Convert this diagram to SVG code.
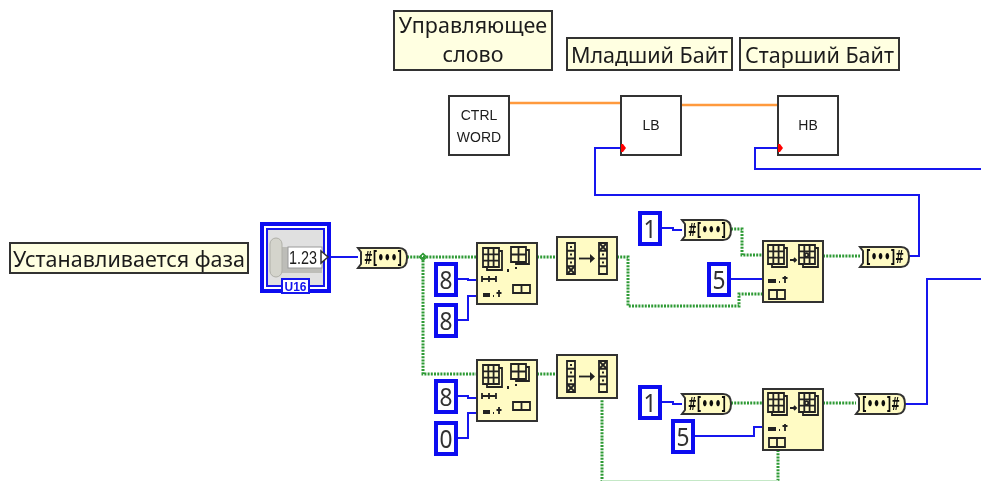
<svg xmlns="http://www.w3.org/2000/svg" xmlns:xlink="http://www.w3.org/1999/xlink" width="981" height="481" viewBox="0 0 981 481">
<style>
text{font-family:"Noto Sans","DejaVu Sans",sans-serif;fill:#1c1c1c}
.lbl{fill:#ffffe1;stroke:#333;stroke-width:2}
.lt{font-size:21.500px;text-anchor:middle}
.blk{fill:#fffbc4;stroke:#333;stroke-width:2}
.sub{fill:#fff;stroke:#333;stroke-width:2}
.st{font-family:"Liberation Sans",Arial,sans-serif;font-size:14px;text-anchor:middle}
.con{fill:#fff;stroke:#0808f0;stroke-width:4}
.ct{font-size:25px;fill:#333}
.tag{fill:#fffbc4;stroke:#333;stroke-width:2}
.tt{font-family:"DejaVu Sans",sans-serif;font-weight:bold;font-size:17px;fill:#111}
.gl{fill:none;stroke:#222;stroke-width:1.800}
.gf{fill:#222}
.b{fill:none;stroke:#1414ee;stroke-width:2}
.g{fill:none;stroke:#2f9a35;stroke-width:3;stroke-dasharray:2 1.200}
.o{fill:none;stroke:#ff9a3c;stroke-width:2.500}
</style>
<defs>
<filter id="soft" filterUnits="userSpaceOnUse" x="0" y="0" width="981" height="481"><feGaussianBlur stdDeviation="0.4"/></filter>
<g id="grid"><path class="gl" d="M0 0h16v19H0zM5.300 0v19M10.600 0v19M0 6.300h16M0 12.600h16M16 3h3v19H4v-3"/></g>
<g id="subset">
<rect class="blk" width="60" height="61"/>
<use xlink:href="#grid" x="6" y="5"/>
<path class="gl" d="M34 4h15v15H34zM41.500 4v15M34 11.500h15M49 7h3v14H39v-2"/>
<path class="gf" d="M30 26h2v3h-2zM38 24h2v2h-2z"/>
<path class="gl" d="M5 33v6M5 36h14M12 33v6M19 33v6"/>
<rect class="gf" x="6" y="50" width="7" height="4"/>
<path class="gl" d="M16 53h1M22 47v7M19.500 50h5"/>
<path class="gl" d="M36 42h17v8H36zM44.500 42v8"/>
</g>
<g id="replace">
<rect class="blk" width="60" height="61"/>
<use xlink:href="#grid" x="5" y="4"/>
<path class="gl" d="M27 19h6M31 17l2 2-2 2"/>
<use xlink:href="#grid" x="36" y="4"/>
<circle cx="43.500" cy="14" r="1.800" class="gl"/>
<rect class="gf" x="5" y="38" width="8" height="4"/>
<path class="gl" d="M16 41h1M22 35v7M19.500 37h5"/>
<path class="gl" d="M6 49h16v9H6zM14 49v9"/>
</g>
<g id="rearr">
<rect class="blk" width="60" height="43"/>
<path class="gl" d="M10 6h8v31h-8zM10 13.750h8M10 21.500h8M10 29.250h8M42 6h8v31h-8zM42 13.750h8M42 21.500h8M42 29.250h8"/>
<path class="gf" d="M13 9h2v2h-2zM13 16.500h2v2h-2zM13 24.500h2v2h-2zM45 16.500h2v2h-2zM45 24.500h2v2h-2z"/>
<path class="gl" d="M11 30l6 6M17 30l-6 6M43 7l6 6M49 7l-6 6"/>
<path class="gl" d="M22 21.500h14"/><path class="gf" d="M33 17l5 4.500-5 4.500z"/>
</g>
<g id="tagIn">
<path class="tag" d="M0 0h41q8 0 8 10t-8 10H0l3-4V4z"/>
<text class="tt" x="6" y="16" textLength="38" lengthAdjust="spacingAndGlyphs">#[•••]</text>
</g>
<g id="tagOut">
<path class="tag" d="M0 0h41q8 0 8 10t-8 10H0l3-4V4z"/>
<text class="tt" x="6" y="16" textLength="38" lengthAdjust="spacingAndGlyphs">[•••]#</text>
</g>
</defs>
<rect width="981" height="481" fill="#fff"/>
<g filter="url(#soft)">
<g id="connectors">
<path class="o" d="M509 103H621"/>
<path class="o" d="M681 105H778"/>
<path class="b" d="M622 148H595V195H919V256H908"/>
<path class="b" d="M779 148H755V169H981"/>
<path class="b" d="M331 257H358"/>
<path class="g" d="M407 257H477"/>
<path class="g" d="M423 257V374H477"/>
<path fill="none" stroke="#2f9a35" stroke-width="1.500" d="M423 253.500l3.500 3.500-3.500 3.500-3.500-3.500z"/>
<path class="b" d="M458 279H468V280H477"/>
<path class="b" d="M458 320H468V296H477"/>
<path class="b" d="M458 396H468V398H477"/>
<path class="b" d="M458 438H468V413H477"/>
<path class="g" d="M537 257H557"/>
<path class="g" d="M537 374H557"/>
<path class="g" d="M617 257H628V306H739V294H763"/>
<path class="b" d="M662 228H673V230H682"/>
<path class="g" d="M731 229H742V255H763"/>
<path class="b" d="M730 279H763"/>
<path class="g" d="M823 256H860"/>
<path class="b" d="M662 402H673V404H682"/>
<path class="g" d="M731 403H763"/>
<path class="b" d="M694 436H754V427H763"/>
<path class="g" d="M602 397V481"/>
<path class="g" d="M778 450V481"/>
<path fill="none" stroke="#c4e8c6" stroke-width="1" d="M602 480.500H778"/>
<path class="g" d="M823 403H856"/>
<path class="b" d="M904 404H927V279H981"/>
</g>
<g id="label-phase"><rect class="lbl" x="10" y="243" width="238" height="30"/><text class="lt" x="129" y="267">Устанавливается фаза</text></g>
<g id="label-ctrl"><rect class="lbl" x="394" y="11" width="158" height="59"/><text class="lt" x="473" y="33">Управляющее</text><text class="lt" x="473" y="62">слово</text></g>
<g id="label-lb"><rect class="lbl" x="567" y="38" width="165" height="32"/><text class="lt" x="649.500" y="63">Младший Байт</text></g>
<g id="label-hb"><rect class="lbl" x="740" y="38" width="159" height="32"/><text class="lt" x="819.500" y="63">Старший Байт</text></g>
<g id="ctrl-word"><rect class="sub" x="449" y="96" width="60" height="59"/><text class="st" x="479" y="120">CTRL</text><text class="st" x="479" y="142">WORD</text></g>
<g id="lb"><rect class="sub" x="621" y="96" width="60" height="59"/><text class="st" x="651" y="130">LB</text><path fill="#f00" d="M621 144h2l3 4-3 4h-2z"/></g>
<g id="hb"><rect class="sub" x="778" y="96" width="60" height="59"/><text class="st" x="808" y="130">HB</text><path fill="#f00" d="M778 144h2l3 4-3 4h-2z"/></g>
<g id="control">
<rect x="262" y="224" width="67" height="67" fill="#fff" stroke="#0808f0" stroke-width="4"/>
<rect x="267" y="229" width="57" height="57" fill="#e0e0e0" stroke="#1414ee" stroke-width="2"/>
<rect x="270" y="247" width="52" height="26" fill="#bdbdb8"/>
<rect x="270" y="238" width="12" height="39" rx="6" fill="#d4d4cc" stroke="#b0b0a8"/>
<rect x="288" y="247" width="34" height="21" fill="#fff" stroke="#999"/>
<text x="289" y="264" font-size="18" textLength="28" lengthAdjust="spacingAndGlyphs" style="font-family:'Liberation Sans',sans-serif">1.23</text>
<path d="M321 251l7 6-7 6z" fill="#fff" stroke="#333" stroke-width="1.500"/>
<rect x="282" y="279" width="27" height="14" fill="#fff" stroke="#1414ee" stroke-width="2"/>
<text x="284.500" y="291" font-size="13" font-weight="bold" textLength="22" lengthAdjust="spacingAndGlyphs" style="fill:#1414ee;font-family:'Liberation Sans',sans-serif">U16</text>
</g>
<g id="tag1"><use xlink:href="#tagIn" x="358" y="248"/></g>
<g id="subset1"><use xlink:href="#subset" x="477" y="243"/></g>
<g id="subset2"><use xlink:href="#subset" x="477" y="360"/></g>
<g id="c8a"><rect class="con" x="436" y="264" width="20" height="31"/><text class="ct" x="439.500" y="289" textLength="13" lengthAdjust="spacingAndGlyphs">8</text></g>
<g id="c8b"><rect class="con" x="436" y="305" width="20" height="31"/><text class="ct" x="439.500" y="330" textLength="13" lengthAdjust="spacingAndGlyphs">8</text></g>
<g id="c8c"><rect class="con" x="436" y="381" width="20" height="31"/><text class="ct" x="439.500" y="406" textLength="13" lengthAdjust="spacingAndGlyphs">8</text></g>
<g id="c0"><rect class="con" x="436" y="423" width="20" height="31"/><text class="ct" x="439.500" y="448" textLength="13" lengthAdjust="spacingAndGlyphs">0</text></g>
<g id="rearr1"><use xlink:href="#rearr" x="557" y="237"/></g>
<g id="rearr2"><use xlink:href="#rearr" x="557" y="355"/></g>
<g id="c1a"><rect class="con" x="640" y="213" width="20" height="31"/><text class="ct" x="643.500" y="238" textLength="13" lengthAdjust="spacingAndGlyphs">1</text></g>
<g id="tag2"><use xlink:href="#tagIn" x="682" y="220"/></g>
<g id="c5a"><rect class="con" x="709" y="264" width="20" height="31"/><text class="ct" x="712.500" y="289" textLength="13" lengthAdjust="spacingAndGlyphs">5</text></g>
<g id="replace1"><use xlink:href="#replace" x="763" y="241"/></g>
<g id="tag3"><use xlink:href="#tagOut" x="860" y="247"/></g>
<g id="c1b"><rect class="con" x="640" y="387" width="20" height="31"/><text class="ct" x="643.500" y="412" textLength="13" lengthAdjust="spacingAndGlyphs">1</text></g>
<g id="tag4"><use xlink:href="#tagIn" x="682" y="394"/></g>
<g id="c5b"><rect class="con" x="673" y="421" width="20" height="31"/><text class="ct" x="676.500" y="446" textLength="13" lengthAdjust="spacingAndGlyphs">5</text></g>
<g id="replace2"><use xlink:href="#replace" x="763" y="389"/></g>
<g id="tag5"><use xlink:href="#tagOut" x="856" y="394"/></g>
</g>
</svg>
